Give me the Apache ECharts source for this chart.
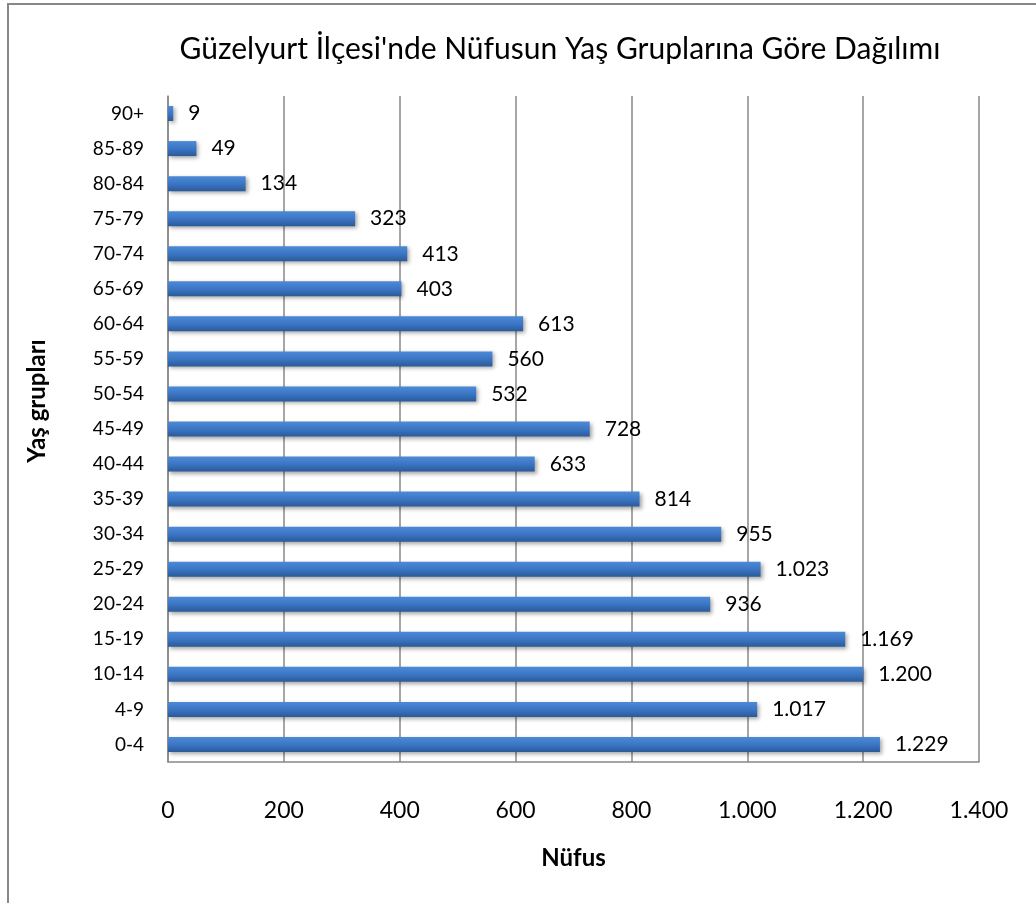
<!DOCTYPE html>
<html>
<head>
<meta charset="utf-8">
<script src="https://cdn.jsdelivr.net/npm/echarts@6/dist/echarts.min.js"></script>
<style>html,body{margin:0;padding:0;background:#fff}#c{width:1036px;height:903px}</style>
</head>
<body>
<div id="c"></div>
<script>
const categories = ['0-4','4-9','10-14','15-19','20-24','25-29','30-34','35-39','40-44','45-49','50-54','55-59','60-64','65-69','70-74','75-79','80-84','85-89','90+'];
const values = [1229,1017,1200,1169,936,1023,955,814,633,728,532,560,613,403,413,323,134,49,9];
const xTicks = [0,200,400,600,800,1000,1200,1400];

const fmt = v => String(v).replace(/\B(?=(\d{3})+(?!\d))/g, '.');
const font = 'Lato, "Open Sans", sans-serif';

const chart = echarts.init(document.getElementById('c'));
chart.setOption({
  backgroundColor: '#fff',
  animation: false,
  graphic: [{
    type: 'rect', shape: {x: 8, y: 4, width: 1100, height: 1000},
    style: {fill: 'none', stroke: '#888', lineWidth: 2}, silent: true
  }, {
    type: 'text', x: 37, y: 401, rotation: Math.PI / 2, silent: true,
    style: {text: 'Yaş grupları', fontFamily: font, fontSize: 24, fontWeight: 'bold',
      fill: '#000', align: 'center', verticalAlign: 'middle'}
  }],
  title: {
    text: "Güzelyurt İlçesi'nde Nüfusun Yaş Gruplarına Göre Dağılımı",
    left: 555, top: 29, textAlign: 'center',
    textStyle: {fontFamily: font, fontSize: 30, fontWeight: 'normal', color: '#000'}
  },
  grid: {left: 168, right: 57, top: 96, bottom: 141, containLabel: false},
  xAxis: {
    type: 'value', min: 0, max: 1400, interval: 200,
    name: 'Nüfus', nameLocation: 'middle', nameGap: 84,
    nameTextStyle: {fontFamily: font, fontSize: 24, fontWeight: 'bold', color: '#000'},
    axisLine: {show: true, lineStyle: {color: '#888', width: 1.5}},
    axisTick: {show: false},
    axisLabel: {fontFamily: font, fontSize: 23, color: '#000', margin: 37,
      formatter: v => xTicks.includes(v) ? fmt(v) : ''},
    splitLine: {show: true, lineStyle: {color: '#888', width: 1.5}}
  },
  yAxis: {
    type: 'category', data: categories,
    axisLine: {show: true, lineStyle: {color: '#888', width: 1.5}},
    axisTick: {show: false},
    axisLabel: {fontFamily: font, fontSize: 19, color: '#000', margin: 24},
    splitLine: {show: false}
  },
  series: [{
    type: 'bar', data: values, barWidth: 15,
    itemStyle: {
      color: new echarts.graphic.LinearGradient(0, 0, 0, 1, [
        {offset: 0, color: '#4d8ad6'},
        {offset: 0.5, color: '#3b76c5'},
        {offset: 1, color: '#2b5a98'}
      ]),
      shadowColor: 'rgba(0,0,0,0.35)', shadowBlur: 4, shadowOffsetX: 2, shadowOffsetY: 2
    },
    label: {show: true, position: 'right', distance: 15,
      fontFamily: font, fontSize: 21, color: '#000',
      formatter: p => fmt(p.value)}
  }]
});
</script>
</body>
</html>
